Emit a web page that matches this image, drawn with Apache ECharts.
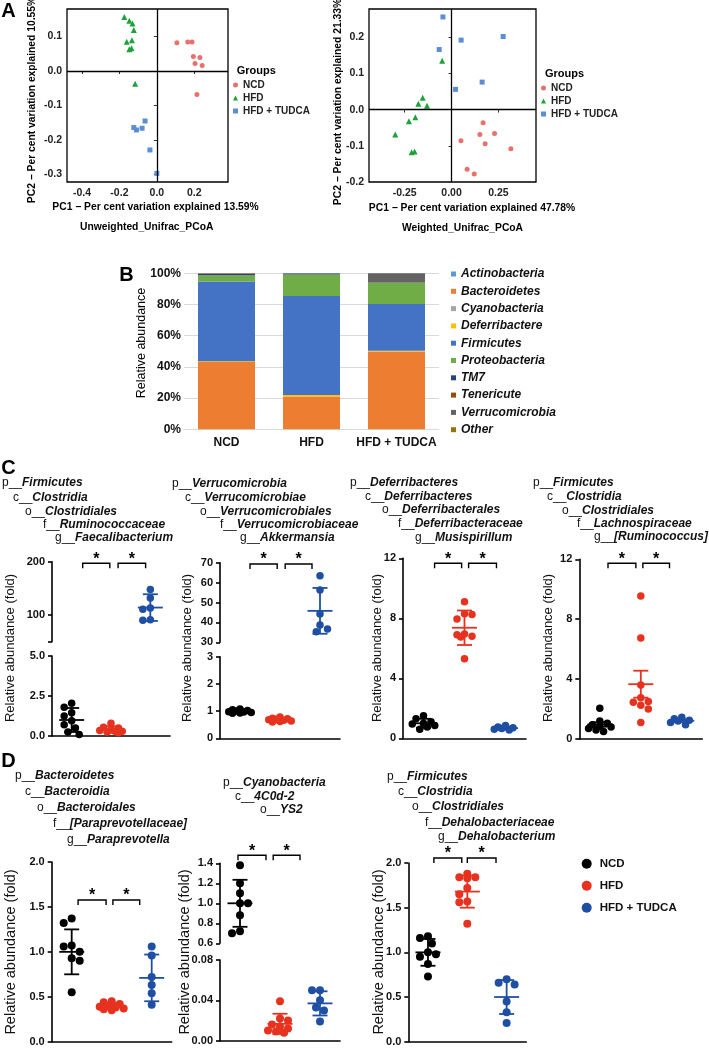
<!DOCTYPE html>
<html><head><meta charset="utf-8">
<script src="https://cdn.jsdelivr.net/npm/echarts@6/dist/echarts.min.js"></script>
<style>html,body{margin:0;padding:0;background:#fff}#c{width:709px;height:1048px}</style>
</head><body><div id="c"></div>
<script>
// ======================= DATA =======================
const groupNames = ['NCD', 'HFD', 'HFD + TUDCA'];

// ---- Panel A : PCoA (x = PC1, y = PC2) ----
const unwNCD = [[0.107,0.082],[0.165,0.084],[0.188,0.084],[0.195,0.042],[0.230,0.039],[0.204,0.022],[0.242,0.016],[0.214,-0.068]];
const unwHFD = [[-0.174,0.157],[-0.147,0.146],[-0.130,0.138],[-0.123,0.119],[-0.133,0.089],[-0.161,0.085],[-0.147,0.063],[-0.135,0.066],[-0.116,-0.037]];
const unwTUDCA = [[-0.063,-0.145],[-0.123,-0.164],[-0.109,-0.171],[-0.079,-0.166],[-0.037,-0.229],[0.0,-0.297]];
const wNCD = [[0.168,-0.036],[0.151,-0.069],[0.229,-0.066],[0.050,-0.086],[0.179,-0.094],[0.316,-0.108],[0.083,-0.165],[0.121,-0.178]];
const wHFD = [[-0.050,0.135],[-0.154,0.033],[-0.177,0.016],[-0.131,0.011],[-0.193,-0.021],[-0.227,-0.032],[-0.300,-0.069],[-0.213,-0.118],[-0.197,-0.116]];
const wTUDCA = [[-0.046,0.256],[-0.066,0.166],[0.051,0.192],[0.275,0.202],[0.163,0.076],[0.021,0.056]];
const unwXTicks = [-0.4, -0.2, 0, 0.2];
const unwYTicks = [-0.3, -0.2, -0.1, 0, 0.1];
const wXTicks = [-0.25, 0, 0.25];
const wYTicks = [-0.2, -0.1, 0, 0.1, 0.2];

// ---- Panel B : phylum relative abundance (%), order NCD, HFD, HFD + TUDCA ----
const phyla = ['Actinobacteria','Bacteroidetes','Cyanobacteria','Deferribactere','Firmicutes','Proteobacteria','TM7','Tenericute','Verrucomicrobia','Other'];
const abActinobacteria  = [0.1, 0.05, 0.05];
const abBacteroidetes   = [43, 21, 49.8];
const abCyanobacteria   = [0.1, 0.05, 0.05];
const abDeferribactere  = [0.5, 0.9, 0.4];
const abFirmicutes      = [51, 63.5, 30];
const abProteobacteria  = [4, 13.8, 13.5];
const abTM7             = [0.9, 0.5, 0.2];
const abTenericute      = [0.3, 0.1, 0.1];
const abVerrucomicrobia = [0.1, 0.1, 5.9];
const abOther           = [0, 0, 0];
const pctTicks = [0, 20, 40, 60, 80, 100];

// ---- Panels C / D : relative abundance (fold) ----
const faecTaxa = ['p__Firmicutes','c__Clostridia','o__Clostridiales','f__Ruminococcaceae','g__Faecalibacterium'];
const faecNCD = [2.05, 1.8, 1.45, 1.25, 0.95, 0.7, 0.5, 0.25, 0.1];
const faecHFD = [0.8, 0.55, 0.5, 0.4, 0.35, 0.3, 0.3, 0.25, 0.2];
const faecTUDCA = [148, 132, 113, 111, 91, 90];
const faecMean = [1.0, 0.41, 114];
const faecErr = [0.75, 0.2, 25];
const faecTicksUpper = [100, 200];
const faecTicksLower = [0, 2.5, 5];

const akkTaxa = ['p__Verrucomicrobia','c__Verrucomicrobiae','o__Verrucomicrobiales','f__Verrucomicrobiaceae','g__Akkermansia'];
const akkNCD = [1.08, 1.05, 1.02, 1.0, 0.98, 0.97, 0.95, 0.93, 0.92];
const akkHFD = [0.78, 0.74, 0.72, 0.7, 0.68, 0.66, 0.64, 0.62, 0.6];
const akkTUDCA = [63.5, 56.3, 44.2, 38.7, 36.7, 35.3];
const akkMean = [1.0, 0.69, 45.8];
const akkErr = [0.05, 0.06, 11.5];
const akkTicksUpper = [30, 40, 50, 60, 70];
const akkTicksLower = [0, 1, 2, 3];

const musTaxa = ['p__Deferribacteres','c__Deferribacteres','o__Deferribacterales','f__Deferribacteraceae','g__Musispirillum'];
const musNCD = [1.5, 1.3, 1.1, 1.0, 0.95, 0.85, 0.75, 0.6];
const musHFD = [9.1, 8.3, 8.25, 7.95, 6.95, 6.9, 6.8, 6.75, 5.3];
const musTUDCA = [0.85, 0.75, 0.7, 0.65, 0.6, 0.55];
const musMean = [1.0, 7.37, 0.68];
const musErr = [0.3, 1.15, 0.1];
const musTicks = [0, 4, 8, 12];

const rumTaxa = ['p__Firmicutes','c__Clostridia','o__Clostridiales','f__Lachnospiraceae','g__[Ruminococcus]'];
const rumNCD = [2.05, 1.2, 1.05, 0.95, 0.85, 0.8, 0.7, 0.6, 0.5];
const rumHFD = [9.55, 6.75, 3.6, 2.75, 2.5, 2.45, 2.25, 2.0, 1.1];
const rumTUDCA = [1.45, 1.35, 1.25, 1.2, 1.1, 0.95];
const rumMean = [0.97, 3.66, 1.22];
const rumErr = [0.15, 0.9, 0.1];
const rumTicks = [0, 4, 8, 12];

const parTaxa = ['p__Bacteroidetes','c__Bacteroidia','o__Bacteroidales','f__[Paraprevotellaceae]','g__Paraprevotella'];
const parNCD = [1.37, 1.32, 1.07, 1.06, 1.0, 0.93, 0.9, 0.55];
const parHFD = [0.45, 0.44, 0.42, 0.4, 0.39, 0.38, 0.37, 0.36, 0.35];
const parTUDCA = [1.06, 0.96, 0.72, 0.63, 0.54, 0.41];
const parMean = [1.0, 0.4, 0.71];
const parErr = [0.25, 0.03, 0.26];
const parTicks = [0, 0.5, 1, 1.5, 2];

const ys2Taxa = ['p__Cyanobacteria','c__4C0d-2','o__YS2'];
const ys2NCD = [1.38, 1.2, 1.1, 1.0, 1.0, 0.88, 0.72, 0.7];
const ys2HFD = [0.039, 0.022, 0.02, 0.016, 0.014, 0.012, 0.01, 0.009, 0.008];
const ys2TUDCA = [0.05, 0.05, 0.04, 0.033, 0.03, 0.019];
const ys2Mean = [1.0, 0.0167, 0.037];
const ys2Err = [0.235, 0.01, 0.012];
const ys2TicksUpper = [0.6, 0.8, 1.0, 1.2, 1.4];
const ys2TicksLower = [0, 0.04, 0.08];

const dehTaxa = ['p__Firmicutes','c__Clostridia','o__Clostridiales','f__Dehalobacteriaceae','g__Dehalobacterium'];
const dehNCD = [1.18, 1.16, 1.1, 1.0, 0.98, 0.95, 0.87, 0.73];
const dehHFD = [1.88, 1.84, 1.84, 1.83, 1.72, 1.65, 1.57, 1.56, 1.32];
const dehTUDCA = [0.7, 0.66, 0.64, 0.45, 0.33, 0.21];
const dehMean = [1.0, 1.68, 0.5];
const dehErr = [0.15, 0.18, 0.19];
const dehTicks = [0, 0.5, 1, 1.5, 2];

// ======================= STYLE / LAYOUT =======================
const FONT = '"Liberation Sans", Arial, Helvetica, sans-serif';
const groupColors = ['#000000', '#E6321F', '#1F4FA3'];
const pcoaColors = ['#E8716B', '#1BA338', '#5B8ED6'];
const pcoaSymbols = ['circle', 'triangle', 'rect'];
const pcoaSizes = [5, 6, 5];
const phylumColors = ['#5B9BD5','#ED7D31','#A5A5A5','#FFC000','#4472C4','#70AD47','#264478','#9E480E','#636363','#997300'];

const pcoaPanels = [
  { sets: [unwNCD, unwHFD, unwTUDCA], xt: unwXTicks, yt: unwYTicks,
    xTitle: 'PC1 \u2212 Per cent variation explained 13.59%', yTitle: 'PC2 \u2212 Per cent variation explained 10.55%', sub: 'Unweighted_Unifrac_PCoA',
    lay: { left: 67, top: 9, width: 161, height: 173, xr: [-0.48, 0.38], yr: [-0.322, 0.18], xdec: 1, ydec: 1,
      xT: [155.5, 207], yT: [32, 100], subP: [146.7, 227], grpP: [236.7, 71], leg: [233, 80] } },
  { sets: [wNCD, wHFD, wTUDCA], xt: wXTicks, yt: wYTicks,
    xTitle: 'PC1 \u2212 Per cent variation explained 47.78%', yTitle: 'PC2 \u2212 Per cent variation explained 21.33%', sub: 'Weighted_Unifrac_PCoA',
    lay: { left: 369, top: 9, width: 167, height: 173, xr: [-0.44, 0.45], yr: [-0.2, 0.278], xdec: 2, ydec: 1,
      xT: [472, 207.7], yT: [338, 102], subP: [462.5, 228], grpP: [545, 74], leg: [541, 83] } }
];

const dotPanels = [
  { taxa: faecTaxa, vals: [faecNCD, faecHFD, faecTUDCA], mean: faecMean, err: faecErr, ticks: [faecTicksUpper, faecTicksLower],
    lay: { left: 52, width: 118, segs: [{ top: 561.7, h: 80, min: 50, max: 200 }, { top: 656, h: 80, min: 0, max: 5 }], dec: [0, 1],
      taxaX: [2, 13, 25, 43, 55], taxaY: [483, 498, 512, 525, 538], titleX: 10, titleY: 648, titleSize: 13,
      brDy: 1.5, b1: [0.28, 0.97], b2: [1.18, 1.88], dot: 7.5 } },
  { taxa: akkTaxa, vals: [akkNCD, akkHFD, akkTUDCA], mean: akkMean, err: akkErr, ticks: [akkTicksUpper, akkTicksLower],
    lay: { left: 220, width: 120, segs: [{ top: 562.7, h: 79.6, min: 30, max: 70 }, { top: 656.7, h: 81.6, min: 0, max: 3 }], dec: [0, 0],
      taxaX: [172, 185, 200, 220, 240], taxaY: [484, 498, 512, 525, 538], titleX: 187, titleY: 648, titleSize: 13,
      brDy: 1.3, b1: [0.25, 0.93], b2: [1.13, 1.8], dot: 7.5 } },
  { taxa: musTaxa, vals: [musNCD, musHFD, musTUDCA], mean: musMean, err: musErr, ticks: [musTicks],
    lay: { left: 403, width: 123, segs: [{ top: 558.3, h: 180, min: 0, max: 12 }], dec: [0],
      taxaX: [350, 365, 382, 398, 415], taxaY: [482.7, 496.7, 510, 524, 538], titleX: 377, titleY: 648, titleSize: 13,
      brDy: 5, b1: [0.27, 0.93], b2: [1.1, 1.78], dot: 7.5 } },
  { taxa: rumTaxa, vals: [rumNCD, rumHFD, rumTUDCA], mean: rumMean, err: rumErr, ticks: [rumTicks],
    lay: { left: 579.3, width: 123, segs: [{ top: 559.3, h: 179.7, min: 0, max: 12 }], dec: [0],
      taxaX: [533, 547, 562, 577, 594], taxaY: [483, 497, 511, 524, 537], titleX: 548, titleY: 648, titleSize: 13,
      brDy: 4, b1: [0.2, 0.88], b2: [1.05, 1.7], dot: 7.5 } },
  { taxa: parTaxa, vals: [parNCD, parHFD, parTUDCA], mean: parMean, err: parErr, ticks: [parTicks],
    lay: { left: 51.7, width: 120, segs: [{ top: 862, h: 179.7, min: 0, max: 2 }], dec: [1],
      taxaX: [15, 25, 37, 53, 67], taxaY: [776, 791.8, 807.6, 823.4, 839.2], titleX: 11, titleY: 952, titleSize: 14.5,
      brDy: 38, b1: [0.16, 0.86], b2: [1.03, 1.7], dot: 8 } },
  { taxa: ys2Taxa, vals: [ys2NCD, ys2HFD, ys2TUDCA], mean: ys2Mean, err: ys2Err, ticks: [ys2TicksUpper, ys2TicksLower],
    lay: { left: 220, width: 120, segs: [{ top: 863.3, h: 80, min: 0.6, max: 1.4 }, { top: 960, h: 80.7, min: 0, max: 0.08 }], dec: [1, 2],
      taxaX: [223, 235, 260], taxaY: [783, 797, 810], titleX: 185, titleY: 952, titleSize: 14.5,
      brDy: -8, b1: [-0.05, 0.65], b2: [0.83, 1.5], dot: 8 } },
  { taxa: dehTaxa, vals: [dehNCD, dehHFD, dehTUDCA], mean: dehMean, err: dehErr, ticks: [dehTicks],
    lay: { left: 408.3, width: 118, segs: [{ top: 863, h: 178.7, min: 0, max: 2 }], dec: [1],
      taxaX: [387, 398, 412, 425, 438], taxaY: [777, 792, 807, 823, 837], titleX: 379, titleY: 952, titleSize: 14.5,
      brDy: -5, b1: [0.15, 0.86], b2: [1.0, 1.73], dot: 8 } }
];

// ======================= BUILD =======================
const grids = [], xAxes = [], yAxes = [], series = [], graphics = [], legends = [];
function addGrid(g, x, y) {
  grids.push(g);
  const i = grids.length - 1;
  xAxes.push(Object.assign({ gridIndex: i }, x));
  yAxes.push(Object.assign({ gridIndex: i }, y));
  return i;
}
function gText(x, y, text, opt) {
  opt = opt || {};
  graphics.push({
    type: 'text', x: x, y: y, rotation: opt.rot || 0, silent: true,
    style: {
      text: text, fill: opt.color || '#000', fontFamily: FONT,
      fontSize: opt.size || 12, fontWeight: opt.weight || 'normal', fontStyle: opt.style || 'normal',
      textAlign: opt.align || 'center', align: opt.align || 'center',
      textVerticalAlign: 'middle', verticalAlign: 'middle', rich: opt.rich
    }
  });
}

// ---- Panel A ----
pcoaPanels.forEach(function (p) {
  const L = p.lay;
  const gi = addGrid(
    { left: L.left, top: L.top, width: L.width, height: L.height, show: true, borderColor: '#000', borderWidth: 1.3, backgroundColor: 'transparent' },
    { type: 'value', min: L.xr[0], max: L.xr[1], axisLine: { show: false }, splitLine: { show: false },
      axisTick: { show: true, length: 3, lineStyle: { color: '#333' }, customValues: p.xt },
      axisLabel: { customValues: p.xt, margin: 6, fontFamily: FONT, fontSize: 10.5, fontWeight: 'bold', color: '#222',
        formatter: function (v) { return v.toFixed(L.xdec); } } },
    { type: 'value', min: L.yr[0], max: L.yr[1], axisLine: { show: false }, splitLine: { show: false },
      axisTick: { show: true, length: 3, lineStyle: { color: '#333' }, customValues: p.yt },
      axisLabel: { customValues: p.yt, margin: 5, fontFamily: FONT, fontSize: 10.5, fontWeight: 'bold', color: '#222',
        formatter: function (v) { return v.toFixed(L.ydec); } } }
  );
  p.sets.forEach(function (set, k) {
    const s = {
      type: 'scatter', name: groupNames[k], xAxisIndex: gi, yAxisIndex: gi, data: set,
      symbol: pcoaSymbols[k], symbolSize: pcoaSizes[k], itemStyle: { color: pcoaColors[k], opacity: 1 }, z: 3
    };
    if (k === 0) {
      s.markLine = { silent: true, symbol: 'none', label: { show: false }, animation: false,
        lineStyle: { color: '#000', width: 1.3, type: 'solid' }, data: [{ xAxis: 0 }, { yAxis: 0 }] };
    }
    series.push(s);
  });
  gText(L.xT[0], L.xT[1], p.xTitle, { size: 10.3, weight: 'bold' });
  gText(L.yT[0], L.yT[1], p.yTitle, { size: 10.3, weight: 'bold', rot: Math.PI / 2 });
  gText(L.subP[0], L.subP[1], p.sub, { size: 10.3, weight: 'bold' });
  gText(L.grpP[0], L.grpP[1], 'Groups', { size: 11, weight: 'bold', align: 'left' });
  legends.push({
    left: L.leg[0], top: L.leg[1], orient: 'vertical', itemWidth: 5, itemHeight: 5, itemGap: 3, padding: 0,
    textStyle: { fontFamily: FONT, fontSize: 10, fontWeight: 'bold', color: '#222', lineHeight: 10 },
    data: groupNames.map(function (n, k) { return { name: n, icon: pcoaSymbols[k], itemStyle: { color: pcoaColors[k] } }; })
  });
});

// ---- Panel B ----
const abundance = [abActinobacteria, abBacteroidetes, abCyanobacteria, abDeferribactere, abFirmicutes,
  abProteobacteria, abTM7, abTenericute, abVerrucomicrobia, abOther];
const gB = addGrid(
  { left: 184, top: 273.3, width: 255, height: 156 },
  { type: 'category', data: groupNames, axisLine: { lineStyle: { color: '#D9D9D9', width: 1 } }, axisTick: { show: false },
    axisLabel: { interval: 0, margin: 7, fontFamily: FONT, fontSize: 12, fontWeight: 'bold', color: '#111' } },
  { type: 'value', min: 0, max: 100, interval: 20, axisLine: { show: false }, axisTick: { show: false },
    splitLine: { lineStyle: { color: '#D9D9D9', width: 1 } },
    axisLabel: { customValues: pctTicks, margin: 3, fontFamily: FONT, fontSize: 12, fontWeight: 'bold', color: '#111',
      formatter: function (v) { return v + '%'; } } }
);
phyla.forEach(function (ph, k) {
  series.push({ type: 'bar', name: ph, stack: 'phyla', xAxisIndex: gB, yAxisIndex: gB, data: abundance[k],
    barWidth: 57, itemStyle: { color: phylumColors[k] } });
});
legends.push({
  left: 451, top: 267, orient: 'vertical', itemWidth: 5, itemHeight: 5, itemGap: 3.3, padding: 0, icon: 'rect',
  textStyle: { fontFamily: FONT, fontSize: 12, fontWeight: 'bold', fontStyle: 'italic', color: '#111', lineHeight: 14 },
  data: phyla.map(function (ph, k) { return { name: ph, itemStyle: { color: phylumColors[k] } }; })
});
gText(142, 343, 'Relative abundance', { size: 12.5, rot: Math.PI / 2 });

// ---- Panels C / D ----
// compact beeswarm: horizontal offsets limited to a narrow band, overlap allowed when crowded
function swarmOffsets(values, pxPerUnit, diam) {
  const idx = values.map(function (_, i) { return i; }).sort(function (a, b) { return values[b] - values[a]; });
  const placed = [];
  const off = values.map(function () { return 0; });
  const step = diam * 0.5;
  const cands = [0, step, -step, 2 * step, -2 * step, 3 * step, -3 * step];
  idx.forEach(function (i, n) {
    const y = values[i] * pxPerUnit;
    let best = null, bestD = -1;
    for (let k = 0; k < cands.length; k++) {
      const c = (n % 2 ? -1 : 1) * cands[k];
      let dmin = Infinity;
      placed.forEach(function (p) { dmin = Math.min(dmin, Math.hypot(p.x - c, p.y - y)); });
      if (dmin >= diam * 0.97) { best = c; break; }
      if (dmin > bestD) { bestD = dmin; best = c; }
    }
    off[i] = best; placed.push({ x: best, y: y });
  });
  return off;
}
function errRender(params, api) {
  const g = api.value(0), m = api.value(1), e = api.value(2);
  const pm = api.coord([g, m]), pt = api.coord([g, m + e]), pb = api.coord([g, m - e]);
  const col = groupColors[g];
  const mh = 12.5, ch = 7.5;
  function ln(x1, y1, x2, y2) { return { type: 'line', shape: { x1: x1, y1: y1, x2: x2, y2: y2 }, style: { stroke: col, lineWidth: 1.8 } }; }
  return { type: 'group', children: [
    ln(pm[0] - mh, pm[1], pm[0] + mh, pm[1]),
    ln(pt[0], pt[1], pb[0], pb[1]),
    ln(pt[0] - ch, pt[1], pt[0] + ch, pt[1]),
    ln(pb[0] - ch, pb[1], pb[0] + ch, pb[1])
  ] };
}
function bracketRender(L, seg) {
  return function (params, api) {
    const c0 = api.coord([0, seg.max]), c1 = api.coord([1, seg.max]);
    const sx = c1[0] - c0[0];
    const y = c0[1] + L.brDy;
    const kids = [];
    [L.b1, L.b2].forEach(function (b) {
      const xa = c0[0] + b[0] * sx, xb = c0[0] + b[1] * sx;
      kids.push({ type: 'polyline', shape: { points: [[xa, y + 5], [xa, y], [xb, y], [xb, y + 5]] },
        style: { stroke: '#000', lineWidth: 1.4, fill: null } });
      kids.push({ type: 'text', style: { x: (xa + xb) / 2, y: y - 4, text: '*', fill: '#000', fontFamily: FONT,
        fontSize: 16, fontWeight: 'bold', textAlign: 'center', align: 'center', textVerticalAlign: 'middle', verticalAlign: 'middle' } });
    });
    return { type: 'group', children: kids };
  };
}
function fmtDec(d) { return function (v) { return (+v).toFixed(d); }; }

dotPanels.forEach(function (P) {
  const L = P.lay;
  const nSeg = L.segs.length;
  L.segs.forEach(function (seg, si) {
    const isBottom = si === nSeg - 1;
    const tickVals = P.ticks[si].indexOf(seg.min) >= 0 ? P.ticks[si] : [seg.min].concat(P.ticks[si]);
    const gi = addGrid(
      { left: L.left, top: seg.top, width: L.width, height: seg.h },
      { type: 'category', data: groupNames, axisLabel: { show: false }, axisTick: { show: false },
        axisLine: { show: isBottom, lineStyle: { color: '#000', width: 1.6 } } },
      { type: 'value', min: seg.min, max: seg.max, splitLine: { show: false },
        axisLine: { show: true, lineStyle: { color: '#000', width: 1.6 } },
        axisTick: { show: true, length: 4, lineStyle: { color: '#000', width: 1.6 }, customValues: tickVals },
        axisLabel: { customValues: P.ticks[si], margin: 7, fontFamily: FONT, fontSize: 11, fontWeight: 'bold', color: '#111',
          formatter: fmtDec(L.dec[si]) } }
    );
    const pxPerUnit = seg.h / (seg.max - seg.min);
    const errData = [];
    P.vals.forEach(function (vals, g) {
      const m = P.mean[g];
      if (m < seg.min || m > seg.max) return;
      const off = swarmOffsets(vals, pxPerUnit, L.dot);
      series.push({
        type: 'scatter', name: groupNames[g], xAxisIndex: gi, yAxisIndex: gi, symbol: 'circle', symbolSize: L.dot,
        itemStyle: { color: groupColors[g], opacity: 1 }, z: 3,
        data: vals.map(function (v, i) { return { value: [g, v], symbolOffset: [off[i], 0] }; })
      });
      errData.push([g, m, P.err[g]]);
    });
    if (errData.length) {
      series.push({ type: 'custom', xAxisIndex: gi, yAxisIndex: gi, renderItem: errRender, data: errData, z: 4, clip: false, silent: true });
    }
    if (si === 0) {
      series.push({ type: 'custom', xAxisIndex: gi, yAxisIndex: gi, renderItem: bracketRender(L, seg), data: [[0, seg.max]], z: 5, clip: false, silent: true });
    }
  });
  // taxonomy lines
  P.taxa.forEach(function (t, k) {
    const pre = t.slice(0, 3), nm = t.slice(3);
    gText(L.taxaX[k], L.taxaY[k], '{p|' + pre + '}{n|' + nm + '}', {
      align: 'left',
      rich: {
        p: { fontFamily: FONT, fontSize: 12, fontWeight: 'normal', fill: '#111' },
        n: { fontFamily: FONT, fontSize: 12, fontWeight: 'bold', fontStyle: 'italic', fill: '#111' }
      }
    });
  });
  gText(L.titleX, L.titleY, 'Relative abundance (fold)', { size: L.titleSize, rot: Math.PI / 2, color: '#111' });
});

legends.push({
  left: 581.7, top: 857.7, orient: 'vertical', itemWidth: 10, itemHeight: 10, itemGap: 10, padding: 0, icon: 'circle',
  textStyle: { fontFamily: FONT, fontSize: 11.5, fontWeight: 'bold', color: '#111', lineHeight: 10, padding: [0, 0, 0, 3] },
  data: groupNames.map(function (n, k) { return { name: n, itemStyle: { color: groupColors[k] } }; })
});

// panel letters
gText(8.5, 11.5, 'A', { size: 20, weight: 'bold' });
gText(126.5, 275, 'B', { size: 20, weight: 'bold' });
gText(8.5, 468.5, 'C', { size: 20, weight: 'bold' });
gText(8.5, 761.5, 'D', { size: 20, weight: 'bold' });

const chart = echarts.init(document.getElementById('c'), null, { renderer: 'canvas', width: 709, height: 1048 });
chart.setOption({
  animation: false,
  backgroundColor: '#fff',
  textStyle: { fontFamily: FONT },
  grid: grids, xAxis: xAxes, yAxis: yAxes, series: series, legend: legends,
  graphic: { elements: graphics }
});
</script></body></html>
